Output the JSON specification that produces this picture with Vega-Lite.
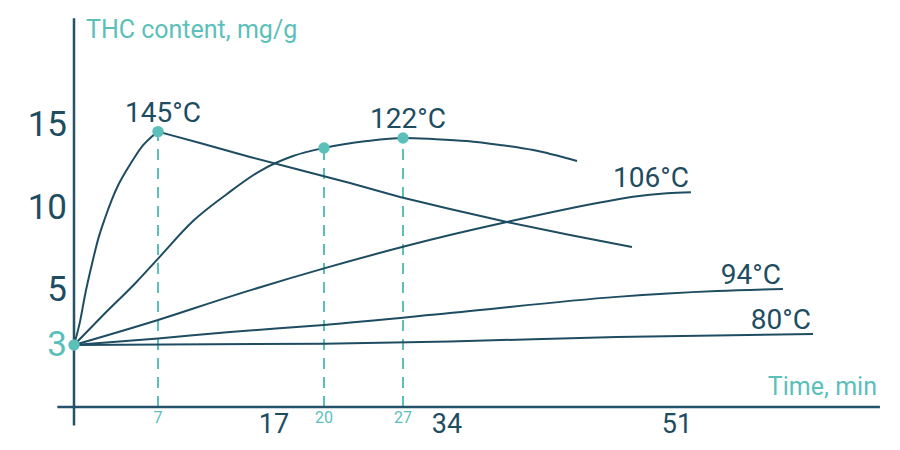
{
  "$schema": "https://vega.github.io/schema/vega-lite/v6.json",
  "description": "THC content vs heating time at five temperatures",
  "width": 900,
  "height": 450,
  "autosize": "none",
  "padding": 0,
  "background": "#ffffff",
  "datasets": {
    "curves": [
      {"series": "145", "t": 0, "thc": 3},
      {"series": "145", "t": 0.5, "thc": 3.85},
      {"series": "145", "t": 0.92, "thc": 4.82},
      {"series": "145", "t": 1.48, "thc": 6.52},
      {"series": "145", "t": 2.03, "thc": 8.13},
      {"series": "145", "t": 2.58, "thc": 9.35},
      {"series": "145", "t": 3.14, "thc": 10.45},
      {"series": "145", "t": 3.69, "thc": 11.36},
      {"series": "145", "t": 4.39, "thc": 12.27},
      {"series": "145", "t": 5.08, "thc": 13.08},
      {"series": "145", "t": 5.78, "thc": 13.79},
      {"series": "145", "t": 6.47, "thc": 14.29},
      {"series": "145", "t": 7, "thc": 14.6},
      {"series": "145", "t": 10.62, "thc": 13.91},
      {"series": "145", "t": 14.93, "thc": 13.06},
      {"series": "145", "t": 18.56, "thc": 12.27},
      {"series": "145", "t": 22.3, "thc": 11.48},
      {"series": "145", "t": 26.73, "thc": 10.64},
      {"series": "145", "t": 34.22, "thc": 9.91},
      {"series": "145", "t": 38.43, "thc": 9.12},
      {"series": "145", "t": 43.09, "thc": 8.33},
      {"series": "145", "t": 47.67, "thc": 7.61},
      {"series": "122", "t": 0, "thc": 3},
      {"series": "122", "t": 2.44, "thc": 4.09},
      {"series": "122", "t": 5.23, "thc": 5.5},
      {"series": "122", "t": 7.03, "thc": 6.92},
      {"series": "122", "t": 10.02, "thc": 9.18},
      {"series": "122", "t": 12.95, "thc": 10.82},
      {"series": "122", "t": 15.79, "thc": 12.21},
      {"series": "122", "t": 18.14, "thc": 13.12},
      {"series": "122", "t": 20, "thc": 13.61},
      {"series": "122", "t": 23.81, "thc": 14.03},
      {"series": "122", "t": 27, "thc": 14.21},
      {"series": "122", "t": 31.77, "thc": 14.15},
      {"series": "122", "t": 35.48, "thc": 14.03},
      {"series": "122", "t": 37.92, "thc": 13.79},
      {"series": "122", "t": 40.36, "thc": 13.48},
      {"series": "122", "t": 43.61, "thc": 12.82},
      {"series": "106", "t": 0, "thc": 3},
      {"series": "106", "t": 7, "thc": 3.91},
      {"series": "106", "t": 13.21, "thc": 4.76},
      {"series": "106", "t": 20, "thc": 6.31},
      {"series": "106", "t": 34.22, "thc": 8.33},
      {"series": "106", "t": 38.43, "thc": 9.12},
      {"series": "106", "t": 45.31, "thc": 10.3},
      {"series": "106", "t": 47.75, "thc": 10.65},
      {"series": "106", "t": 50.26, "thc": 10.86},
      {"series": "106", "t": 52.03, "thc": 10.92},
      {"series": "94", "t": 0, "thc": 3},
      {"series": "94", "t": 7, "thc": 3.24},
      {"series": "94", "t": 13.21, "thc": 3.47},
      {"series": "94", "t": 20, "thc": 3.73},
      {"series": "94", "t": 34.22, "thc": 4.16},
      {"series": "94", "t": 46.56, "thc": 4.75},
      {"series": "94", "t": 53.95, "thc": 4.96},
      {"series": "94", "t": 58.83, "thc": 5.06},
      {"series": "80", "t": 0, "thc": 3},
      {"series": "80", "t": 20, "thc": 3.05},
      {"series": "80", "t": 34.22, "thc": 3.13},
      {"series": "80", "t": 46.56, "thc": 3.29},
      {"series": "80", "t": 61.05, "thc": 3.4}
    ],
    "axes": [
      {"axis": "time", "k": 1, "t": -1.39, "thc": 0},
      {"axis": "time", "k": 2, "t": 66, "thc": 0},
      {"axis": "thc", "k": 1, "t": 0, "thc": -0.9},
      {"axis": "thc", "k": 2, "t": 0, "thc": 21.47}
    ],
    "labels": [
      {"label": "145°C", "t": 7, "thc": 14.6},
      {"label": "122°C", "t": 27, "thc": 14.21},
      {"label": "106°C", "t": 52.03, "thc": 10.92},
      {"label": "94°C", "t": 58.83, "thc": 5.06},
      {"label": "80°C", "t": 61.05, "thc": 3.4}
    ],
    "dots": [
      {"t": 0, "thc": 3},
      {"t": 7, "thc": 14.6},
      {"t": 20, "thc": 13.61},
      {"t": 27, "thc": 14.21}
    ],
    "yticks": [
      {"t": 0, "thc": 15},
      {"t": 0, "thc": 10},
      {"t": 0, "thc": 5},
      {"t": 0, "thc": 3}
    ],
    "xticks": [
      {"t": 17, "thc": 0},
      {"t": 34, "thc": 0},
      {"t": 51, "thc": 0}
    ],
    "titles": [
      {"title": "THC content, mg/g", "t": 0, "thc": 21.47},
      {"title": "Time, min", "t": 66, "thc": 0}
    ]
  },
  "encoding": {
    "x": {
      "field": "t",
      "type": "quantitative",
      "scale": {
        "domain": [0, 7, 17, 20, 27, 34, 51],
        "range": [74, 158, 274, 324, 403, 447, 677],
        "nice": false,
        "zero": false
      },
      "axis": null
    },
    "y": {
      "field": "thc",
      "type": "quantitative",
      "scale": {
        "domain": [0, 3, 5, 15],
        "range": [407, 345, 290, 125],
        "nice": false,
        "zero": false
      },
      "axis": null
    }
  },
  "layer": [
    {
      "data": {"name": "dots"},
      "transform": [{"filter": "datum.t > 0"}],
      "mark": {"type": "rule", "color": "#5bbfba", "strokeWidth": 2, "strokeDash": [11, 8]},
      "encoding": {
        "y": {"datum": 0, "type": "quantitative"},
        "y2": {"field": "thc"}
      }
    },
    {
      "data": {"name": "axes"},
      "mark": {"type": "line", "color": "#24526a", "strokeWidth": 2.5},
      "encoding": {
        "detail": {"field": "axis"},
        "order": {"field": "k"}
      }
    },
    {
      "data": {"name": "curves"},
      "transform": [{"filter": "datum.series == '145' && datum.t <= 7"}],
      "mark": {"type": "line", "color": "#1e4d62", "strokeWidth": 2, "interpolate": "monotone"},
      "encoding": {"detail": {"field": "series"}}
    },
    {
      "data": {"name": "curves"},
      "transform": [{"filter": "datum.series == '145' && datum.t >= 7"}],
      "mark": {"type": "line", "color": "#1e4d62", "strokeWidth": 2, "interpolate": "linear"},
      "encoding": {"detail": {"field": "series"}}
    },
    {
      "data": {"name": "curves"},
      "transform": [{"filter": "datum.series != '145'"}],
      "mark": {"type": "line", "color": "#1e4d62", "strokeWidth": 2, "interpolate": "monotone"},
      "encoding": {"detail": {"field": "series"}}
    },
    {
      "data": {"name": "dots"},
      "mark": {"type": "circle", "color": "#5bbfba", "opacity": 1, "size": 130}
    },
    {
      "data": {"name": "labels"},
      "transform": [{"filter": "datum.t < 30"}],
      "mark": {"type": "text", "font": "Roboto", "fontSize": 28, "color": "#1e4d62", "align": "center", "baseline": "alphabetic", "dx": 5, "dy": -10},
      "encoding": {"text": {"field": "label"}}
    },
    {
      "data": {"name": "labels"},
      "transform": [{"filter": "datum.t > 30"}],
      "mark": {"type": "text", "font": "Roboto", "fontSize": 28, "color": "#1e4d62", "align": "right", "baseline": "alphabetic", "dx": -2, "dy": -5},
      "encoding": {"text": {"field": "label"}}
    },
    {
      "data": {"name": "yticks"},
      "mark": {"type": "text", "font": "Roboto", "fontSize": 35, "align": "right", "baseline": "middle", "dx": -7},
      "encoding": {
        "text": {"field": "thc"},
        "color": {"condition": {"test": "datum.thc == 3", "value": "#5bbfba"}, "value": "#1e4d62"}
      }
    },
    {
      "data": {"name": "xticks"},
      "mark": {"type": "text", "font": "Roboto", "fontSize": 27, "color": "#1e4d62", "align": "center", "baseline": "alphabetic", "dy": 26},
      "encoding": {"text": {"field": "t"}}
    },
    {
      "data": {"name": "dots"},
      "transform": [{"filter": "datum.t > 0"}],
      "mark": {"type": "text", "font": "Roboto", "fontSize": 16, "color": "#5bbfba", "align": "center", "baseline": "alphabetic", "dy": 16},
      "encoding": {
        "y": {"datum": 0, "type": "quantitative"},
        "text": {"field": "t"}
      }
    },
    {
      "data": {"name": "titles"},
      "transform": [{"filter": "datum.t == 0"}],
      "mark": {"type": "text", "font": "Roboto", "fontSize": 25, "color": "#5bbfba", "align": "left", "baseline": "alphabetic", "dx": 12, "dy": 20},
      "encoding": {"text": {"field": "title"}}
    },
    {
      "data": {"name": "titles"},
      "transform": [{"filter": "datum.t > 0"}],
      "mark": {"type": "text", "font": "Roboto", "fontSize": 25, "color": "#5bbfba", "align": "right", "baseline": "alphabetic", "dx": -3, "dy": -12},
      "encoding": {"text": {"field": "title"}}
    }
  ],
  "config": {
    "view": {"stroke": null}
  }
}
